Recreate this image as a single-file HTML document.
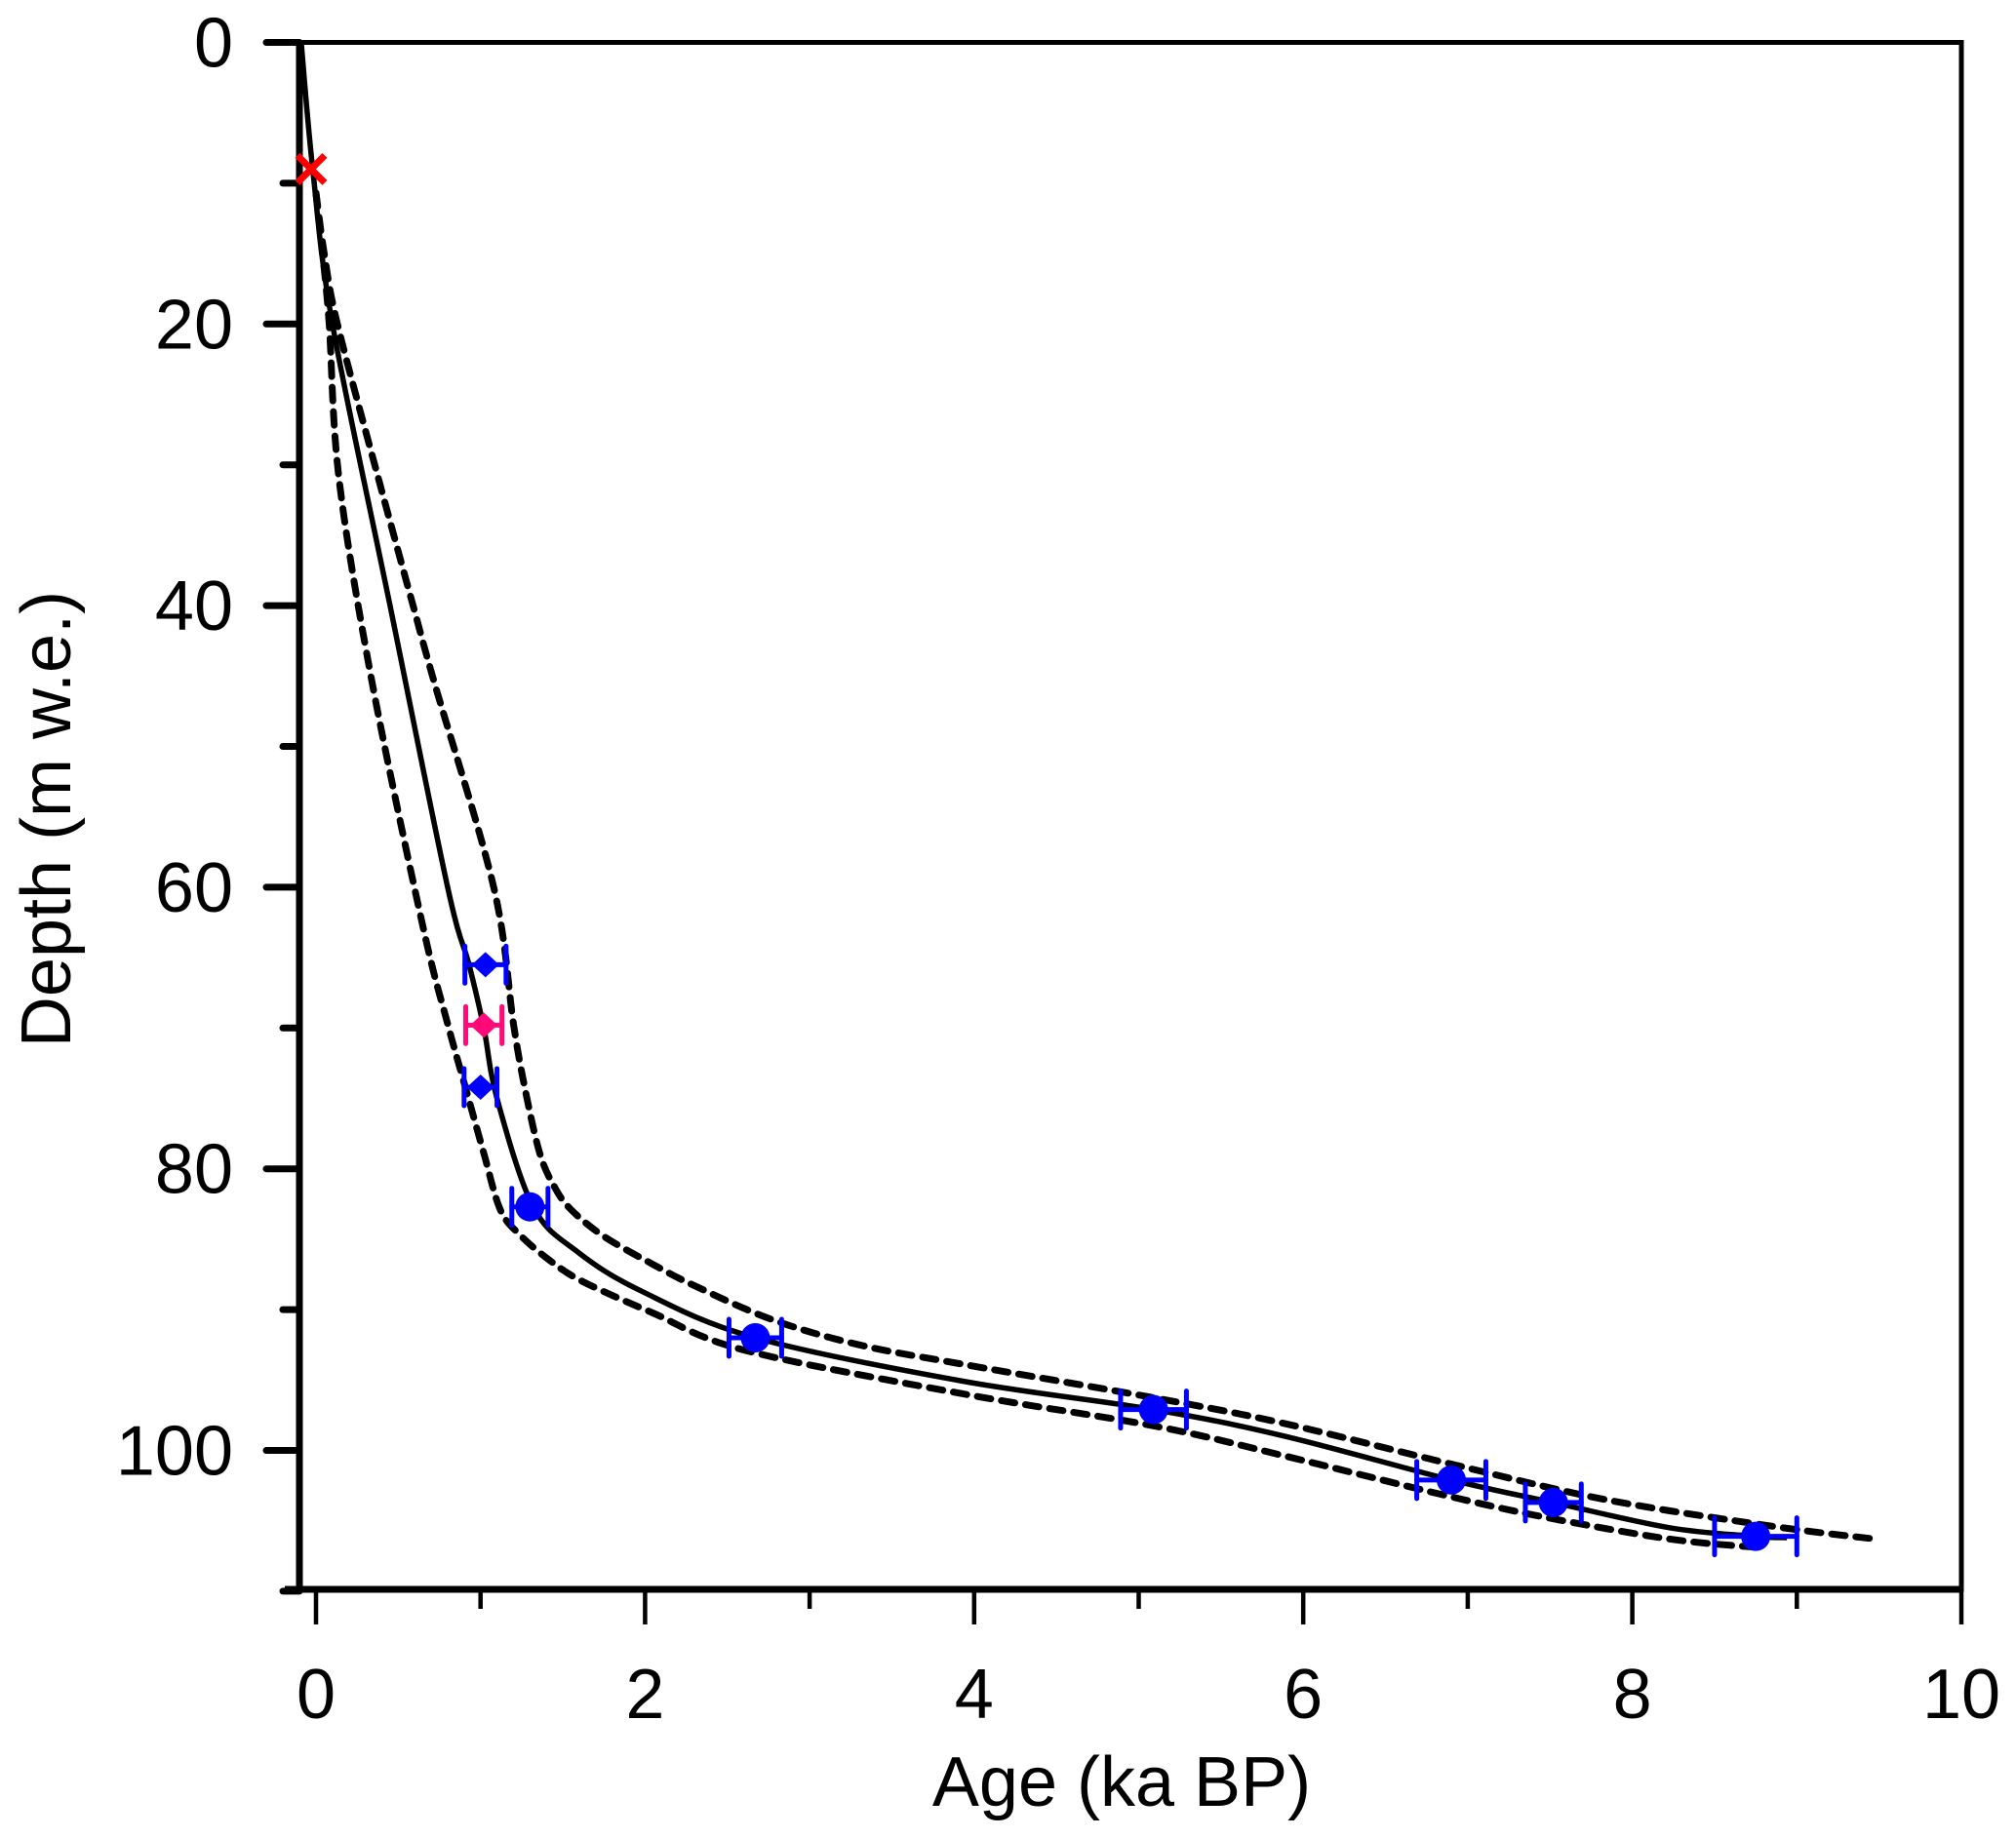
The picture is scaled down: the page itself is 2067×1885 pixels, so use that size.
<!DOCTYPE html>
<html><head><meta charset="utf-8"><style>
html,body{margin:0;padding:0;background:#fff;}
svg{display:block;font-family:"Liberation Sans",Arial,sans-serif;}
</style></head><body>
<svg id="chart" width="2067" height="1885" viewBox="0 0 2067 1885" xmlns="http://www.w3.org/2000/svg">
<g id="axes"></g>
<g id="curves"></g>
<g id="marks"></g>
<text x="1150" y="1852" font-size="72" text-anchor="middle">Age (ka BP)</text>
<text transform="translate(72,840) rotate(-90)" font-size="72" text-anchor="middle">Depth (m w.e.)</text>
</svg>
<script>
const xTicks=[0,2,4,6,8,10];
const xMinor=[1,3,5,7,9];
const yTicks=[0,20,40,60,80,100];
const yMinor=[10,30,50,70,90,110];
const solidAge=[-0.09,-0.02,0.10,0.45,0.80,0.93,1.02,1.10,1.32,1.59,1.98,2.67,3.94,5.09,5.89,6.90,7.52,8.23,8.75,8.94];
const solidDepth=[0,9,20,40,60,65.5,70,75,82.7,85.9,88.7,92.0,95.1,97.1,99.0,102.1,103.7,105.5,106.1,106.2];
const upperAge=[0,0.05,0.13,0.38,0.59,0.72,1.08,1.20,1.27,1.36,1.45,1.55,1.75,2.05,2.30,2.77,3.30,3.94,5.11,5.89,6.91,7.84,8.86,9.48];
const upperDepth=[10.7,15,20,31,40,45.5,60,69.7,74.3,78.9,81.3,82.9,84.8,86.8,88.3,90.7,92.5,93.9,96.3,98.1,101.0,103.5,105.4,106.3];
const lowerAge=[0,0.04,0.08,0.14,0.34,0.65,0.80,0.91,1.02,1.12,1.24,1.42,1.62,2.04,2.61,3.94,5.11,5.89,6.83,7.45,8.23,8.78];
const lowerDepth=[10.7,15,20,31,45.4,62.8,69.7,74.3,78.9,82.9,84.7,86.5,88.0,90.2,92.9,96.0,98.3,100.4,103.1,104.7,106.3,106.9];
const circAge=[1.30,2.67,5.09,6.90,7.52,8.75];
const circDepth=[82.7,92.0,97.1,102.1,103.7,106.1];
const circErr=[0.11,0.16,0.2,0.21,0.17,0.25];
const diaAge=[1.03,1.0];
const diaDepth=[65.5,74.2];
const diaErr=[0.125,0.1];
const pinkAge=[1.02];
const pinkDepth=[69.8];
const pinkErr=[0.11];
const crossAge=[-0.03];
const crossDepth=[9];

const NS='http://www.w3.org/2000/svg';
const X=a=>324+a*168.7;
const Y=d=>43.5+d*14.44;
const L=307,R=2011,T=43.5,B=1630;
function mk(tag,attrs,parent){const e=document.createElementNS(NS,tag);for(const k in attrs)e.setAttribute(k,attrs[k]);parent.appendChild(e);return e;}
const axes=document.getElementById('axes');
const curves=document.getElementById('curves');
const marks=document.getElementById('marks');

let f=mk('rect',{x:L,y:T,width:R-L,height:B-T,fill:'none',stroke:'#000','stroke-width':5},axes);


let lsp=mk('line',{x1:L,x2:L,y1:T,y2:B,stroke:'#000','stroke-width':7},axes);


let bsp=mk('line',{x1:L-15,x2:R,y1:B,y2:B,stroke:'#000','stroke-width':7},axes);



yTicks.forEach(v=>{
  let t=mk('line',{x1:L-34,x2:L,y1:Y(v),y2:Y(v),stroke:'#000','stroke-width':7,'stroke-linecap':'round'},axes);
  
  
  let tx=mk('text',{x:L-68,y:Y(v)+25,'font-size':72,'text-anchor':'end'},axes);
  tx.textContent=v;
  
  
});
yMinor.forEach(v=>{
  let t=mk('line',{x1:L-17,x2:L,y1:Y(v),y2:Y(v),stroke:'#000','stroke-width':7,'stroke-linecap':'round'},axes);
  
  
});
xTicks.forEach(v=>{
  let t=mk('line',{x1:X(v),x2:X(v),y1:B,y2:B+36,stroke:'#000','stroke-width':4.5},axes);
  
  
  let tx=mk('text',{x:X(v),y:1762,'font-size':72,'text-anchor':'middle'},axes);
  tx.textContent=v;
  
  
});
xMinor.forEach(v=>{
  let t=mk('line',{x1:X(v),x2:X(v),y1:B,y2:B+20,stroke:'#000','stroke-width':4.5},axes);
  
  
});

function path(ax,dp){
  const p=ax.map((a,i)=>[X(a),Y(dp[i])]);
  let d='M'+p[0][0]+' '+p[0][1];
  for(let i=0;i<p.length-1;i++){
    const p0=p[Math.max(0,i-1)],p1=p[i],p2=p[i+1],p3=p[Math.min(p.length-1,i+2)];
    const c1=[p1[0]+(p2[0]-p0[0])/6,p1[1]+(p2[1]-p0[1])/6];
    const c2=[p2[0]-(p3[0]-p1[0])/6,p2[1]-(p3[1]-p1[1])/6];
    d+=` C${c1[0]} ${c1[1]} ${c2[0]} ${c2[1]} ${p2[0]} ${p2[1]}`;
  }
  return d;
}
let up=mk('path',{d:path(upperAge,upperDepth),fill:'none',stroke:'#000','stroke-width':7,'stroke-dasharray':'14 11','stroke-linecap':'round'},curves);


let lo=mk('path',{d:path(lowerAge,lowerDepth),fill:'none',stroke:'#000','stroke-width':7,'stroke-dasharray':'14 11','stroke-linecap':'round'},curves);


let so=mk('path',{d:path(solidAge,solidDepth),fill:'none',stroke:'#000','stroke-width':5.5},curves);



function errbar(a,d,e,col,name){
  const g=mk('g',{stroke:col,'stroke-width':5,'stroke-linecap':'round'},marks);
  
  
  mk('line',{x1:X(a-e),x2:X(a+e),y1:Y(d),y2:Y(d)},g);
  mk('line',{x1:X(a-e),x2:X(a-e),y1:Y(d)-19,y2:Y(d)+19},g);
  mk('line',{x1:X(a+e),x2:X(a+e),y1:Y(d)-19,y2:Y(d)+19},g);
}
function diamond(a,d,col,name){
  const x=X(a),y=Y(d);
  let p=mk('polygon',{points:`${x-14},${y} ${x},${y-13} ${x+14},${y} ${x},${y+13}`,fill:col},marks);
  
  
}
circAge.forEach((a,i)=>{
  errbar(a,circDepth[i],circErr[i],'#0000ff','circle-errorbar');
  let c=mk('circle',{cx:X(a),cy:Y(circDepth[i]),r:15,fill:'#0000ff'},marks);
  
  
});
diaAge.forEach((a,i)=>{
  errbar(a,diaDepth[i],diaErr[i],'#0000ff','diamond-errorbar');
  diamond(a,diaDepth[i],'#0000ff','dated-sample-diamond');
});
pinkAge.forEach((a,i)=>{
  errbar(a,pinkDepth[i],pinkErr[i],'#ff0a78','pink-diamond-errorbar');
  diamond(a,pinkDepth[i],'#ff0a78','pink-sample-diamond');
});
crossAge.forEach((a,i)=>{
  const x=X(a),y=Y(crossDepth[i]);
  const g=mk('g',{stroke:'#ff0000','stroke-width':7},marks);
  
  
  mk('line',{x1:x-14,y1:y-14,x2:x+14,y2:y+14},g);
  mk('line',{x1:x-14,y1:y+14,x2:x+14,y2:y-14},g);
});
</script>
</body></html>
